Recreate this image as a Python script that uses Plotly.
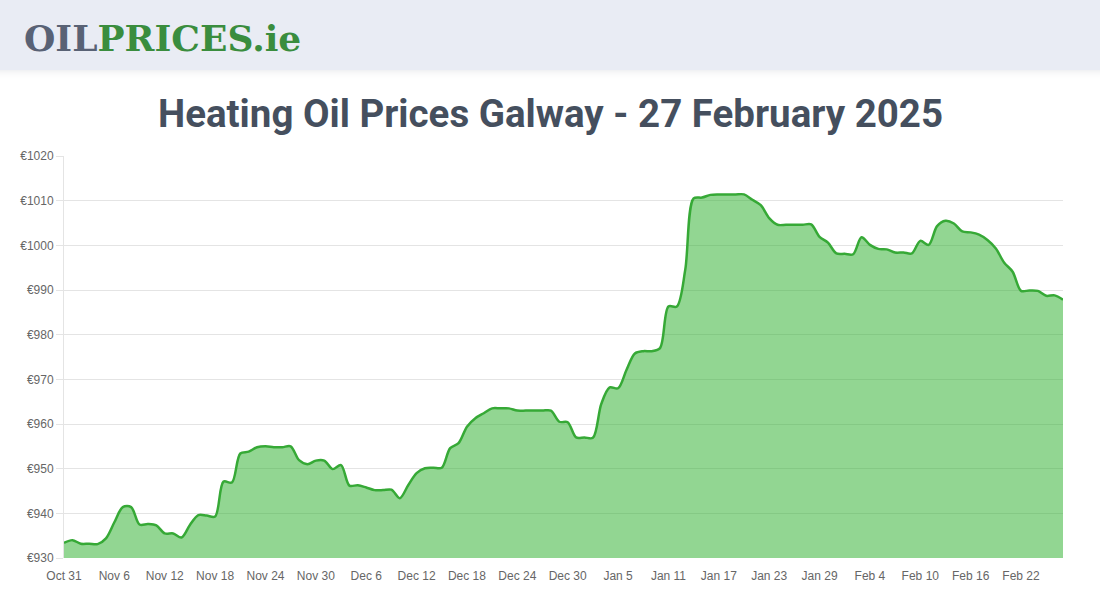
import pandas as pd
import plotly.graph_objects as go

# ---- data ----
start_date = "2024-10-31"
end_date = "2025-02-27"
prices = [
    933.4, 934.0, 933.2, 933.2, 933.1, 934.4, 938.0, 941.4, 941.4, 937.5,
    937.6, 937.3, 935.5, 935.5, 934.6, 937.4, 939.6, 939.5, 939.3, 947.1,
    946.9, 953.4, 953.8, 954.8, 955.0, 954.8, 954.8, 955.0, 951.9, 951.0,
    951.8, 951.8, 949.9, 950.8, 946.2, 946.3, 945.8, 945.2, 945.2, 945.3,
    943.4, 946.3, 949.0, 950.1, 950.2, 950.2, 954.6, 955.7, 959.4, 961.3,
    962.4, 963.5, 963.5, 963.5, 963.0, 963.0, 963.0, 963.0, 963.0, 960.5,
    960.4, 957.0, 957.0, 956.9, 964.5, 968.2, 968.0, 972.1, 975.8, 976.3,
    976.3, 977.0, 986.3, 986.3, 994.5, 1010.5, 1010.7, 1011.3, 1011.4, 1011.4,
    1011.4, 1011.4, 1010.2, 1009.0, 1006.1, 1004.6, 1004.6, 1004.6, 1004.6, 1004.7,
    1001.9, 1000.6, 998.2, 998.1, 998.0, 1001.8, 1000.1, 999.2, 999.1, 998.4,
    998.4, 998.2, 1001.0, 1000.1, 1004.3, 1005.5, 1004.9, 1003.1, 1002.9, 1002.4,
    1001.2, 999.3, 996.1, 994.1, 989.8, 989.9, 989.8, 988.7, 988.8, 987.8,
]
tick_labels = ["Oct 31", "Nov 6", "Nov 12", "Nov 18", "Nov 24", "Nov 30",
               "Dec 6", "Dec 12", "Dec 18", "Dec 24", "Dec 30", "Jan 5",
               "Jan 11", "Jan 17", "Jan 23", "Jan 29", "Feb 4", "Feb 10",
               "Feb 16", "Feb 22"]
y_min, y_max, y_step = 930, 1020, 10
title_text = "Heating Oil Prices Galway - 27 February 2025"

dates = pd.date_range(start_date, end_date, freq="D")
tick_vals = list(dates[::6])[:len(tick_labels)]

# ---- layout geometry (pixels) ----
W, H = 1100, 600
L, R, T, B = 64, 37, 156, 42
pw, ph = W - L - R, H - T - B


def px(x):
    return (x - L) / pw


def py(y):
    return (H - B - y) / ph


fig = go.Figure()
fig.add_trace(go.Scatter(
    x=dates, y=prices, mode="lines",
    line=dict(color="#36a936", width=2.5, shape="spline", smoothing=0.9),
    fill="tozeroy", fillcolor="rgba(37,173,37,0.5)",
    hoverinfo="x+y", showlegend=False,
))

shapes = [
    dict(type="rect", xref="paper", yref="paper", x0=px(0), x1=px(W),
         y0=py(70), y1=py(0), fillcolor="#e9ecf4", line=dict(width=0), layer="below"),
]
for i in range(10):
    shapes.append(dict(type="rect", xref="paper", yref="paper", x0=px(0), x1=px(W),
                       y0=py(71 + i), y1=py(70 + i),
                       fillcolor="rgba(120,130,150,%.3f)" % (0.10 * (1 - i / 10) ** 2),
                       line=dict(width=0), layer="below"))

annotations = [
    dict(xref="paper", yref="paper", x=px(22), y=py(38), xanchor="left", yanchor="middle",
         text="<b><span style='color:#596275'>OIL</span><span style='color:#3a8d3e'>PRICES.ie</span></b>",
         showarrow=False, font=dict(family="DejaVu Serif", size=36)),
    dict(xref="paper", yref="paper", x=px(550), y=py(113), xanchor="center", yanchor="middle",
         text="<b>" + title_text + "</b>", showarrow=False,
         font=dict(family="Roboto", size=38.5, color="#454f5e")),
]

fig.update_layout(
    width=W, height=H,
    margin=dict(l=L, r=R, t=T, b=B, pad=0),
    paper_bgcolor="white", plot_bgcolor="white",
    shapes=shapes, annotations=annotations,
    font=dict(family="Liberation Sans, Arial", size=12, color="#666666"),
    xaxis=dict(range=[dates[0], dates[-1]], tickvals=tick_vals, ticktext=tick_labels,
               showgrid=False, zeroline=False, showline=False, ticks="",
               ticklabelstandoff=9,
               tickfont=dict(size=12, color="#666666"), tickangle=0),
    yaxis=dict(range=[y_min, y_max], dtick=y_step, tick0=y_min, tickprefix="€",
               showgrid=True, gridcolor="#e4e4e4", gridwidth=1, zeroline=False,
               showline=True, linecolor="#e4e4e4", linewidth=1,
               ticks="outside", ticklen=7, tickcolor="#e4e4e4",
               tickfont=dict(size=12, color="#666666")),
)

fig.write_html("out.html")
